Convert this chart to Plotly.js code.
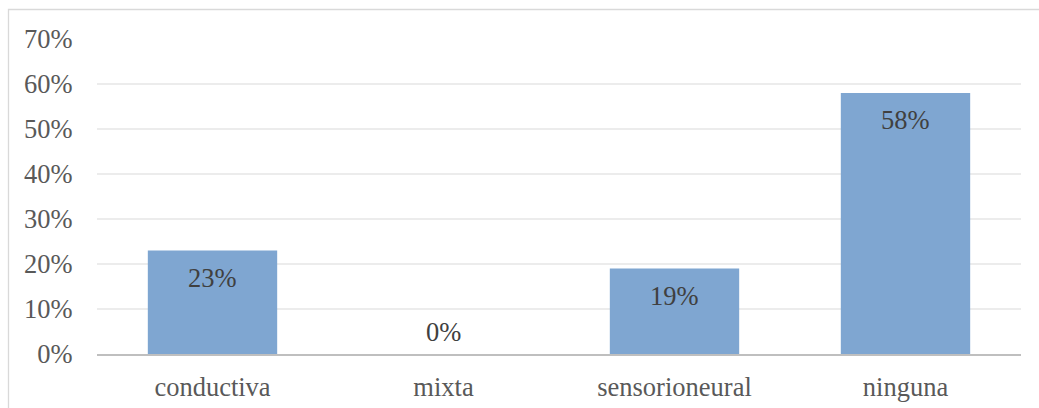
<!DOCTYPE html>
<html>
<head>
<meta charset="utf-8">
<script src="https://cdn.plot.ly/plotly-3.0.1.min.js"></script>
<style>
  html, body { margin: 0; padding: 0; background: #ffffff; }
  #chart { width: 1039px; height: 408px; }
</style>
</head>
<body>
<div id="chart"></div>
<script>
// Tipo de hipoacusia (porcentaje de casos)
const categories = ['conductiva', 'mixta', 'sensorioneural', 'ninguna'];
const percentages = [23, 0, 19, 58];
const tickValues = [0, 10, 20, 30, 40, 50, 60, 70];
const tickLabels = ['0%', '10%', '20%', '30%', '40%', '50%', '60%', '70%'];

const FONT = '"Liberation Serif", "DejaVu Serif", serif';
const FONT_SIZE = 26.5;

const bars = {
  type: 'bar',
  x: categories,
  y: percentages,
  width: 0.56,
  marker: { color: '#7fa6d1', line: { width: 0 } },
  hoverinfo: 'x+y'
};

// Value labels sit inside the bar, just below its top (above the axis for 0)
const labels = categories.map((c, i) => ({
  x: c,
  y: percentages[i],
  xref: 'x',
  yref: 'y',
  text: percentages[i] + '%',
  showarrow: false,
  yanchor: 'middle',
  yshift: percentages[i] > 0 ? -27 : 22,
  font: { family: FONT, size: FONT_SIZE, color: '#404040' }
}));

// Light frame around the chart area
const plotW = 924, plotH = 315, marginL = 97, marginT = 39;
const frame = {
  type: 'rect',
  xref: 'paper', yref: 'paper',
  x0: (8.5 - marginL) / plotW,
  x1: (1045 - marginL) / plotW,
  y0: (354 - 420) / plotH,
  y1: (354 - 9.5) / plotH,
  line: { color: '#d9d9d9', width: 1.3 },
  fillcolor: 'rgba(0,0,0,0)',
  layer: 'below'
};

const layout = {
  width: 1039,
  height: 408,
  margin: { l: marginL, r: 18, t: marginT, b: 54, pad: 0 },
  paper_bgcolor: '#ffffff',
  plot_bgcolor: '#ffffff',
  showlegend: false,
  font: { family: FONT, size: FONT_SIZE, color: '#595959' },
  xaxis: {
    type: 'category',
    showgrid: false,
    showline: true,
    linecolor: '#bfbfbf',
    linewidth: 2,
    ticks: 'outside',
    ticklen: 8,
    tickcolor: 'rgba(0,0,0,0)',
    tickfont: { family: FONT, size: FONT_SIZE, color: '#595959' },
    zeroline: false,
    fixedrange: true
  },
  yaxis: {
    range: [0, 70],
    tickvals: tickValues,
    ticktext: tickLabels,
    showgrid: true,
    gridcolor: '#ececec',
    gridwidth: 1.3,
    showline: false,
    zeroline: false,
    ticks: 'outside',
    ticklen: 18,
    tickcolor: 'rgba(0,0,0,0)',
    tickfont: { family: FONT, size: FONT_SIZE, color: '#595959' },
    fixedrange: true
  },
  annotations: labels,
  shapes: [frame]
};

Plotly.newPlot('chart', [bars], layout, { displayModeBar: false, staticPlot: true });
</script>
</body>
</html>
